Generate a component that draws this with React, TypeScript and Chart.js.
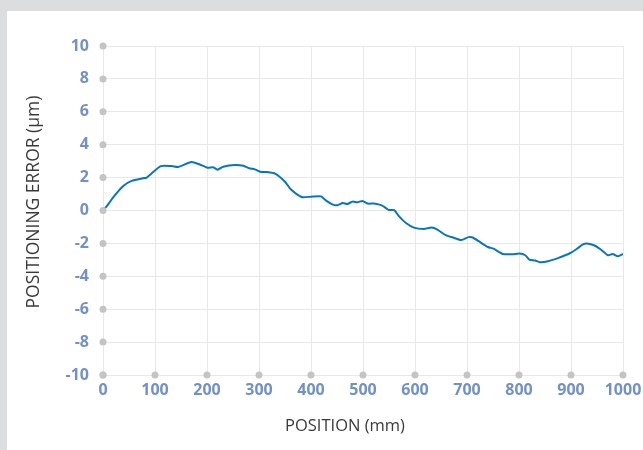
import React, { useEffect, useRef } from "react";
import { Chart, registerables } from "chart.js";

Chart.register(...registerables);

// Position along axis (mm)
const positions = [0, 7, 20, 39, 55, 77, 84, 111, 132, 145, 170, 186, 201, 212, 220, 231, 254, 270, 281, 292, 302, 315, 331, 350, 361, 382, 400, 419, 429, 442, 451, 461, 470, 480, 489, 499, 509, 521, 537, 549, 560, 569, 582, 598, 617, 632, 643, 659, 673, 689, 703, 711, 726, 740, 751, 769, 787, 801, 812, 820, 831, 840, 856, 876, 898, 911, 922, 930, 943, 956, 971, 980, 990, 1000];
// Positioning error (µm)
const errors = [0, 0.25, 0.82, 1.49, 1.8, 1.96, 2.0, 2.7, 2.7, 2.65, 2.95, 2.8, 2.6, 2.63, 2.48, 2.66, 2.77, 2.72, 2.57, 2.5, 2.36, 2.34, 2.24, 1.75, 1.29, 0.82, 0.84, 0.86, 0.6, 0.36, 0.32, 0.46, 0.4, 0.54, 0.5, 0.58, 0.42, 0.42, 0.3, 0.04, 0.02, -0.34, -0.74, -1.04, -1.12, -1.04, -1.16, -1.5, -1.64, -1.8, -1.62, -1.64, -1.94, -2.22, -2.32, -2.64, -2.66, -2.62, -2.72, -2.98, -3.04, -3.14, -3.08, -2.88, -2.6, -2.34, -2.08, -2.0, -2.1, -2.34, -2.72, -2.64, -2.78, -2.64];

const xTicks = [0, 100, 200, 300, 400, 500, 600, 700, 800, 900, 1000];
const yTicks = [-10, -8, -6, -4, -2, 0, 2, 4, 6, 8, 10];

const xTitle = "POSITION (mm)";
const yTitle = "POSITIONING ERROR (µm)";

const FONT = "'Open Sans', 'Liberation Sans', sans-serif";
const TICK_COLOR = "#7290cb";
const TITLE_COLOR = "#3a3a3a";
const GRID_COLOR = "#e8e8e8";
const DOT_COLOR = "#c4c4c4";

const decorPlugin = {
  id: "decor",
  afterDatasetsDraw(chart: any) {
    const { ctx, scales, chartArea } = chart;
    const xs = scales.x;
    const ys = scales.y;
    ctx.save();
    ctx.fillStyle = DOT_COLOR;
    for (const v of yTicks) {
      ctx.beginPath();
      ctx.arc(xs.getPixelForValue(0), ys.getPixelForValue(v), 3.5, 0, Math.PI * 2);
      ctx.fill();
    }
    for (const v of xTicks) {
      ctx.beginPath();
      ctx.arc(xs.getPixelForValue(v), ys.getPixelForValue(-10), 3.5, 0, Math.PI * 2);
      ctx.fill();
    }
    // axis titles
    ctx.fillStyle = TITLE_COLOR;
    ctx.textAlign = "center";
    ctx.textBaseline = "middle";
    ctx.font = `16.5px ${FONT}`;
    ctx.fillText(xTitle, chartArea.left + 242, chartArea.bottom + 51);
    ctx.font = `17.5px ${FONT}`;
    ctx.translate(27, chartArea.top + 156);
    ctx.rotate(-Math.PI / 2);
    ctx.fillText(yTitle, 0, 0);
    ctx.restore();
  },
};

export default function App() {
  const canvasRef = useRef<HTMLCanvasElement | null>(null);

  useEffect(() => {
    if (!canvasRef.current) return;
    const chart = new Chart(canvasRef.current, {
      type: "line",
      data: {
        datasets: [
          {
            data: positions.map((p, i) => ({ x: p, y: errors[i] })),
            borderColor: "#0a74c4",
            borderWidth: 2,
            pointRadius: 0,
            tension: 0.2,
            fill: false,
          },
        ],
      },
      options: {
        animation: false,
        responsive: true,
        maintainAspectRatio: false,
        layout: { padding: { left: 0, top: 35, right: 20, bottom: 0 } },
        plugins: { legend: { display: false }, tooltip: { enabled: false } },
        scales: {
          x: {
            type: "linear",
            min: 0,
            max: 1000,
            afterFit: (s: any) => {
              s.height = 75;
              s.paddingRight = 0;
              s.paddingLeft = 0;
            },
            afterBuildTicks: (s: any) => {
              s.ticks = xTicks.map((v) => ({ value: v }));
            },
            border: { display: true, color: GRID_COLOR },
            grid: { color: GRID_COLOR, drawTicks: false },
            ticks: {
              color: TICK_COLOR,
              font: { family: FONT, size: 16, weight: "bold" },
              padding: 6,
              maxRotation: 0,
              callback: (v: any) => String(v),
            },
          },
          y: {
            type: "linear",
            min: -10,
            max: 10,
            afterFit: (s: any) => {
              s.width = 96;
              s.paddingTop = 0;
              s.paddingBottom = 0;
            },
            afterBuildTicks: (s: any) => {
              s.ticks = yTicks.map((v) => ({ value: v }));
            },
            border: { display: true, color: GRID_COLOR },
            grid: { color: GRID_COLOR, drawTicks: false },
            ticks: {
              color: TICK_COLOR,
              font: { family: FONT, size: 16, weight: "bold" },
              padding: 14,
              callback: (v: any) => String(v),
            },
          },
        },
      },
      plugins: [decorPlugin],
    });
    return () => chart.destroy();
  }, []);

  return (
    <div
      style={{
        position: "fixed",
        left: 0,
        top: 0,
        width: 643,
        height: 450,
        background: "#dcdddf",
      }}
    >
      <div
        style={{
          position: "absolute",
          left: 7,
          top: 11,
          width: 636,
          height: 439,
          background: "#ffffff",
        }}
      >
        <canvas ref={canvasRef} />
      </div>
    </div>
  );
}
